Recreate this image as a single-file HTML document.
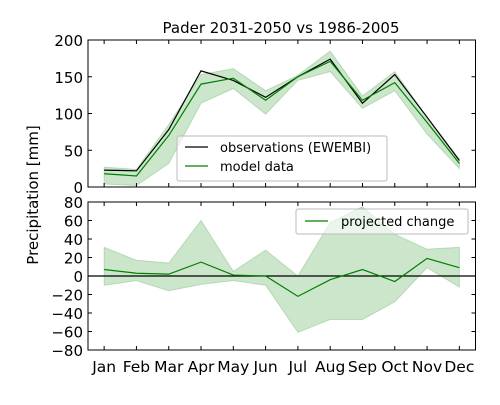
<!DOCTYPE html>
<html><head><meta charset="utf-8"><style>
body{margin:0;background:#fff}
svg{font-family:"DejaVu Sans","Liberation Sans",sans-serif}
</style></head><body>
<svg id="c" width="500" height="400" xmlns="http://www.w3.org/2000/svg"></svg>
<script>
const months=["Jan","Feb","Mar","Apr","May","Jun","Jul","Aug","Sep","Oct","Nov","Dec"];
const obs=[23,22,78,158,145,122,150,174,114,153,95,36];
const model=[18,15,70,140,148,118,150,171,118,142,88,32];
const modelHi=[27,24,85,153,161,131,152,185,124,157,95,38];
const modelLo=[4,2,32,114,134,99,145,157,107,131,72,25];
const change=[7,3,2,15,1,0,-22,-4,7,-6,19,9];
const changeHi=[31,17,14,60,5,28,0,58,75,45,29,31];
const changeLo=[-10,-5,-16,-9,-5,-10,-61,-47,-47,-28,9,-12];
const topTicks=[0,50,100,150,200];
const botTicks=[-80,-60,-40,-20,0,20,40,60,80];
const NS="http://www.w3.org/2000/svg";
const svg=document.getElementById('c');
function mk(t,a,p){const e=document.createElementNS(NS,t);for(const k in a)e.setAttribute(k,a[k]);(p||svg).appendChild(e);return e;}
const L=88,R=475.5;
const x=i=>L+(i+0.5)*(R-L)/12;
const yT=v=>187-(v/200)*147;
const yB=v=>276-(v/80)*74;
function line(arr,ys,col,name){const d=arr.map((v,i)=>(i?'L':'M')+x(i)+','+ys(v)).join(' ');const e=mk('path',{d:d,fill:'none',stroke:col,'stroke-width':1.2});}
function band(hi,lo,ys,name){let d=hi.map((v,i)=>(i?'L':'M')+x(i)+','+ys(v)).join(' ');for(let i=lo.length-1;i>=0;i--)d+=' L'+x(i)+','+ys(lo[i]);d+='Z';const e=mk('path',{d:d,fill:'rgba(0,128,0,0.2)',stroke:'rgba(0,128,0,0.2)'});}
function axes(top,bot,ticks,ys,name){
  const g=mk('g',{});
  ticks.forEach(t=>{const y=ys(t);mk('line',{x1:L,x2:L+4,y1:y,y2:y,stroke:'#000'},g);mk('line',{x1:R,x2:R-4,y1:y,y2:y,stroke:'#000'},g);
    const tx=mk('text',{x:L-5,y:y+6,'text-anchor':'end','font-size':15},g);tx.textContent=String(t).replace('-','\u2212');});
  months.forEach((m,i)=>{mk('line',{x1:x(i),x2:x(i),y1:bot,y2:bot-4,stroke:'#000'},g);mk('line',{x1:x(i),x2:x(i),y1:top,y2:top+4,stroke:'#000'},g);});
  mk('rect',{x:L,y:top,width:R-L,height:bot-top,fill:'none',stroke:'#000','stroke-width':1},g);
}
mk('text',{x:281,y:33,'text-anchor':'middle','font-size':15}).textContent="Pader 2031-2050 vs 1986-2005";

band(modelHi,modelLo,yT,'model-band');
line(obs,yT,'#000','observations-line');
line(model,yT,'green','model-line');
axes(40,187,topTicks,yT,'top-axes');
band(changeHi,changeLo,yB,'change-band');
mk('line',{x1:L,x2:R,y1:yB(0),y2:yB(0),stroke:'#000','stroke-width':1.2});
line(change,yB,'green','change-line');
axes(202,350,botTicks,yB,'bottom-axes');
months.forEach((m,i)=>{const t=mk('text',{x:x(i),y:372,'text-anchor':'middle','font-size':15.5});t.textContent=m;});
const yl=mk('text',{x:38,y:195,'text-anchor':'middle','font-size':15,transform:'rotate(-90 38 195)'});yl.textContent="Precipitation [mm]";

const lg1=mk('g',{});
mk('rect',{x:177,y:136,width:210,height:45,fill:'rgba(255,255,255,0.6)',stroke:'#bbb',rx:2},lg1);
mk('line',{x1:185,x2:208,y1:147,y2:147,stroke:'#000','stroke-width':1.2},lg1);
mk('text',{x:220,y:152,'font-size':13},lg1).textContent="observations (EWEMBI)";
mk('line',{x1:185,x2:208,y1:166,y2:166,stroke:'green','stroke-width':1.2},lg1);
mk('text',{x:220,y:171,'font-size':13},lg1).textContent="model data";
const lg2=mk('g',{});
mk('rect',{x:296,y:209,width:172,height:25,fill:'rgba(255,255,255,0.6)',stroke:'#bbb',rx:2},lg2);
mk('line',{x1:305,x2:328,y1:221,y2:221,stroke:'green','stroke-width':1.2},lg2);
mk('text',{x:341,y:226,'font-size':13},lg2).textContent="projected change";
</script>
</body></html>
